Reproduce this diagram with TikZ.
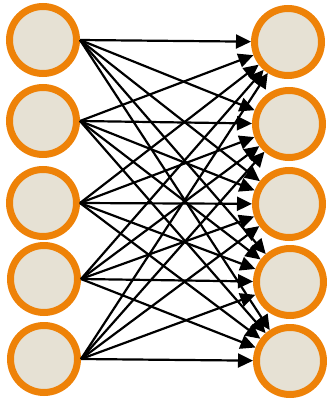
\documentclass[tikz,border=0pt]{standalone}
\usetikzlibrary{arrows.meta}
\definecolor{ringorange}{RGB}{238,130,8}
\definecolor{innerbeige}{RGB}{230,225,212}
\tikzset{
  neuron/.style={circle, draw=ringorange, fill=innerbeige, line width=7pt, minimum size=67pt, inner sep=0pt},
  link/.style={line width=2.2pt, -{Triangle[length=15pt,width=14pt]}}
}
\begin{document}
\begin{tikzpicture}[x=1pt,y=-1pt]
\useasboundingbox (0,0) rectangle (327,400);
\node[neuron] (l1) at (43,40) {};
\node[neuron] (l2) at (43,121) {};
\node[neuron] (l3) at (43,203) {};
\node[neuron] (l4) at (44,279) {};
\node[neuron] (l5) at (44,359) {};
\node[neuron] (r1) at (288,42) {};
\node[neuron] (r2) at (289,124) {};
\node[neuron] (r3) at (289,204) {};
\node[neuron] (r4) at (290,282) {};
\node[neuron] (r5) at (290,361) {};
\foreach \i in {1,...,5}{
  \foreach \j in {1,...,5}{
    \draw[link] (l\i.east) -- (r\j);
  }
}
\end{tikzpicture}
\end{document}
